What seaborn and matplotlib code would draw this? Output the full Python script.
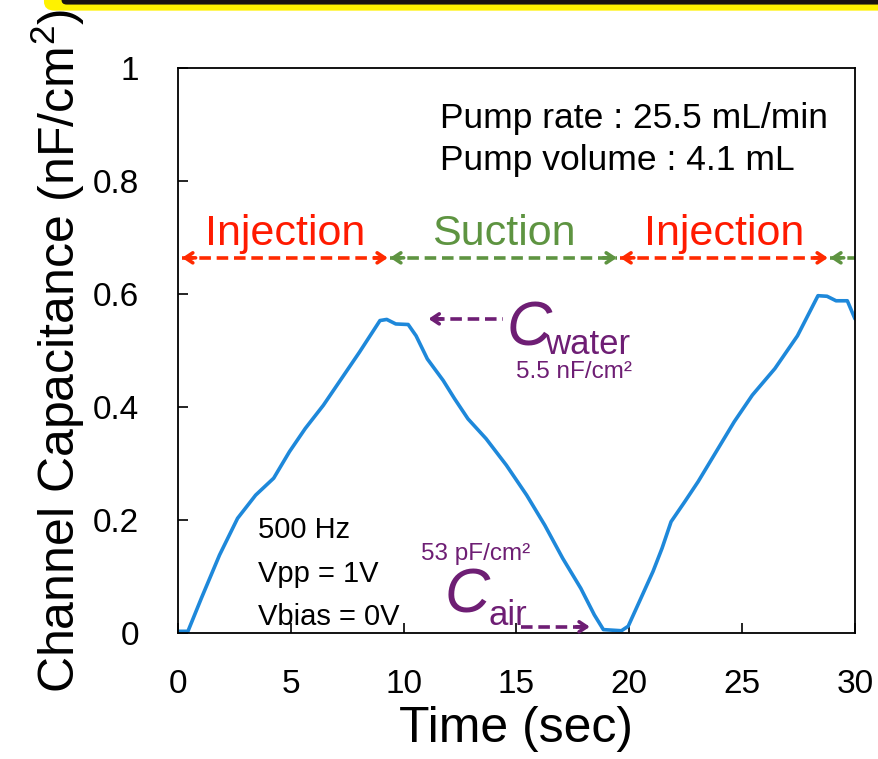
import numpy as np
import pandas as pd
import seaborn as sns
import matplotlib
matplotlib.use("Agg")
import matplotlib.pyplot as plt
from matplotlib.patches import FancyBboxPatch

# ---------------- data ----------------
time_s = [0.0, 0.44, 1.04, 1.84, 2.64, 3.44, 4.24, 4.94, 5.64, 6.44, 7.24, 8.04,
          8.95, 9.25, 9.65, 10.2, 10.55, 11.05, 11.75, 12.25, 12.85, 13.65, 14.55,
          15.45, 16.25, 17.05, 17.85, 18.45, 18.85, 19.65, 19.95, 20.45, 21.05,
          21.45, 21.85, 22.45, 23.05, 23.85, 24.65, 25.45, 26.45, 27.45, 28.36,
          28.76, 29.16, 29.66, 30.0]
capacitance = [0.003, 0.003, 0.062, 0.138, 0.203, 0.244, 0.274, 0.321, 0.362,
               0.403, 0.450, 0.497, 0.553, 0.555, 0.547, 0.546, 0.526, 0.485,
               0.447, 0.415, 0.379, 0.344, 0.297, 0.244, 0.191, 0.132, 0.079,
               0.032, 0.006, 0.004, 0.012, 0.056, 0.109, 0.150, 0.197, 0.232,
               0.268, 0.321, 0.374, 0.421, 0.468, 0.526, 0.597, 0.596, 0.588,
               0.588, 0.556]

x_ticks = [0, 5, 10, 15, 20, 25, 30]
y_ticks = [0, 0.2, 0.4, 0.6, 0.8, 1.0]
y_tick_labels = ["0", "0.2", "0.4", "0.6", "0.8", "1"]

phase_labels = ["Injection", "Suction", "Injection", ""]
phase_starts = [0.18, 9.4, 19.6, 28.9]
phase_ends = [9.3, 19.45, 28.8, 31.0]

x_label = "Time (sec)"
y_label = "Channel Capacitance (nF/cm$^2$)"

# ---------------- style ----------------
sns.set_theme(style="white")
plt.rcParams["font.family"] = ["Liberation Sans", "DejaVu Sans"]
plt.rcParams["mathtext.fontset"] = "custom"
plt.rcParams["mathtext.rm"] = "Liberation Sans"
plt.rcParams["mathtext.it"] = "Liberation Sans:italic"

NARROW = ["Liberation Sans Narrow", "Liberation Sans", "DejaVu Sans"]
RED = "#FF2A00"
RED_TXT = "#FF1A00"
GREEN = "#5E9441"
PURPLE = "#6E1E74"
BLUE = "#1E88DA"

fig = plt.figure(figsize=(8.79, 7.59), dpi=100)
ax = fig.add_axes([178 / 879, 1 - 633 / 759, (855 - 178) / 879, (633 - 68) / 759])

df = pd.DataFrame({"t": time_s, "c": capacitance})
sns.lineplot(data=df, x="t", y="c", ax=ax, color=BLUE, lw=2.6, sort=False)

ax.set_xlim(0, 30)
ax.set_ylim(0, 1)
ax.set_xticks(x_ticks)
ax.set_xticklabels([str(v) for v in x_ticks])
ax.set_yticks(y_ticks)
ax.set_yticklabels(y_tick_labels)
ax.tick_params(axis="both", direction="in", length=7, width=1.2, colors="black",
               labelsize=24, left=True, bottom=True)
ax.tick_params(axis="y", pad=28)
ax.tick_params(axis="x", pad=26)
for s in ax.spines.values():
    s.set_visible(True)
    s.set_color("black")
    s.set_linewidth(1.3)

ax.set_xlabel(x_label, fontsize=36, labelpad=4, color="black")
ax.set_ylabel(y_label, fontsize=36, labelpad=4, color="black")

# ---------------- phase arrows ----------------
arrow_y = 0.664
def head(x_tip, direction, color, y):
    ax.annotate("", xy=(x_tip, y), xytext=(x_tip - direction * 0.6, y),
                arrowprops=dict(arrowstyle="->,head_length=0.45,head_width=0.3",
                                color=color, lw=2.6, shrinkA=0, shrinkB=0),
                annotation_clip=False)

for i, (lab, x0, x1) in enumerate(zip(phase_labels, phase_starts, phase_ends)):
    col = RED if i % 2 == 0 else GREEN
    tcol = RED_TXT if i % 2 == 0 else GREEN
    ax.plot([x0, x1], [arrow_y, arrow_y], color=col, lw=2.6, ls=(0, (3.2, 1.6)),
            clip_on=True)
    head(x0, -1, col, arrow_y)
    if x1 <= 30:
        head(x1, 1, col, arrow_y)
    if lab:
        ax.text((x0 + x1) / 2, 0.687, lab, color=tcol, fontsize=31,
                family=NARROW, ha="center", va="baseline")

# ---------------- text annotations ----------------
ax.text(11.6, 0.91, "Pump rate : 25.5 mL/min", fontsize=25.5, ha="left",
        va="center", color="black")
ax.text(11.6, 0.836, "Pump volume : 4.1 mL", fontsize=25.5, ha="left",
        va="center", color="black")

ax.text(3.55, 0.183, "500 Hz", fontsize=21, ha="left", va="center", color="black")
ax.text(3.55, 0.105, "Vpp = 1V", fontsize=21, ha="left", va="center", color="black")
ax.text(3.55, 0.028, "Vbias = 0V", fontsize=21, ha="left", va="center", color="black")

# C_water
ax.text(14.55, 0.508, "C", fontsize=45, style="italic", family=NARROW,
        color=PURPLE, ha="left", va="baseline")
ax.text(16.25, 0.494, "water", fontsize=25, family=NARROW, color=PURPLE,
        ha="left", va="baseline")
ax.text(15.0, 0.462, "5.5 nF/cm²", fontsize=17.5, family=NARROW, color=PURPLE,
        ha="left", va="center")
ax.plot([11.3, 14.4], [0.556, 0.556], color=PURPLE, lw=2.6, ls=(0, (3.2, 1.6)))
head(11.1, -1, PURPLE, 0.556)

# C_air
ax.text(10.75, 0.139, "53 pF/cm²", fontsize=17.5, family=NARROW, color=PURPLE,
        ha="left", va="center")
ax.text(11.8, 0.037, "C", fontsize=45, style="italic", family=NARROW,
        color=PURPLE, ha="left", va="baseline")
ax.text(13.75, 0.014, "air", fontsize=25, family=NARROW, color=PURPLE,
        ha="left", va="baseline")
ax.plot([15.2, 18.0], [0.011, 0.011], color=PURPLE, lw=2.6, ls=(0, (3.2, 1.6)))
head(18.25, 1, PURPLE, 0.011)

# ---------------- top decoration (slide frame) ----------------
fig.patches.append(FancyBboxPatch((0.05, 0.986), 1.0, 0.1,
                                  boxstyle="round,pad=0,rounding_size=0.012",
                                  transform=fig.transFigure, facecolor="#FFF200",
                                  edgecolor="none", zorder=0))
fig.patches.append(FancyBboxPatch((0.07, 0.994), 1.0, 0.1,
                                  boxstyle="round,pad=0,rounding_size=0.006",
                                  transform=fig.transFigure, facecolor="#1A1410",
                                  edgecolor="none", zorder=1))

fig.savefig("out.png", dpi=100)
